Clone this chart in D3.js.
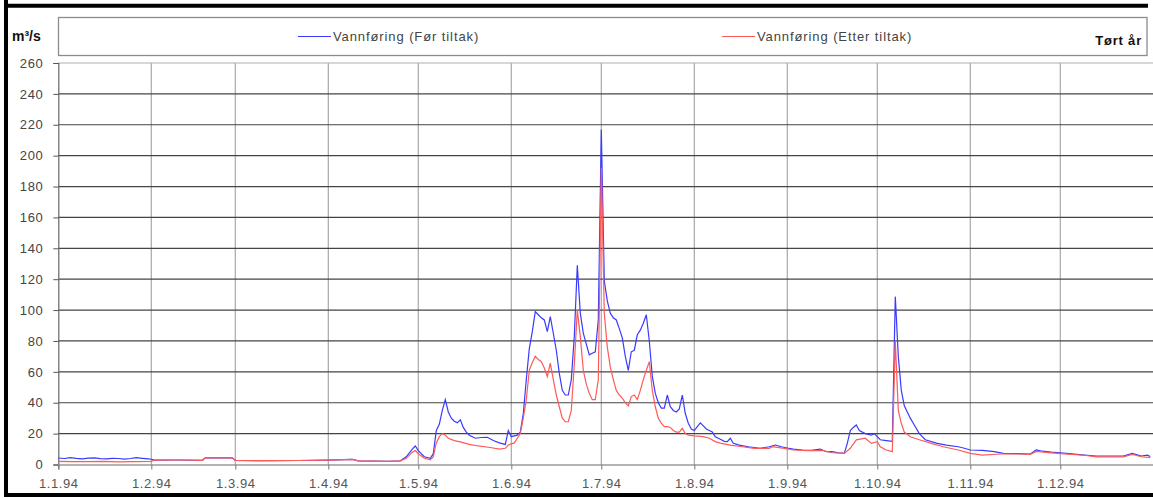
<!DOCTYPE html>
<html>
<head>
<meta charset="utf-8">
<script src="https://cdn.jsdelivr.net/npm/d3@7"></script>
<style>
  body { margin: 0; background: #fff; }
  svg { display: block; }
  text { font-family: "Liberation Sans", Arial, sans-serif; }
</style>
</head>
<body>
<svg id="chart" width="1153" height="498"></svg>
<script>
// Daily discharge 1994, [day of year (0 = 1 Jan), m³/s]
const forTiltak = [
  [0,4.2],[2,3.9],[4,4.4],[6,4.0],[8,3.7],[10,4.1],[12,4.3],[14,3.8],[16,3.6],[18,4.0],[20,3.9],
  [22,3.5],[24,3.9],[26,4.4],[28,4.0],[30,3.6],[31,3.4],
  [32,2.8],[40,2.9],[48,2.7],[49,4.3],[58,4.3],[59,2.6],[70,2.5],[80,2.6],[90,2.8],[98,3.3],
  [100,2.3],[110,2.1],[114,2.4],
  [116,5],[118,10],[119,12],[120,9],[122,5],[124,4],[125,7],[126,22],[127,26],[128,35],[129,42],
  [130,34],[131,30],[132,28],[133,27],[134,29],[135,24],[136,21],[137,19],[139,17],[141,17.5],
  [143,17.6],[145,15.5],[147,14],[149,13],[150,22],[151,18],[152,18.5],[153,19],[154,21],[155,33],
  [156,55],[157,75],[158,86],[159,99],[160,97],[161,95],[162,93.6],[163,86],[164,95.7],[165,85],
  [166,74],[167,59],[168,48],[169,45],[170,45],[171,55],[172,83],[173,129],[174,98],[175,85],
  [176,78],[177,71],[178,72],[179,73],[180,93.6],[181,217],[182,119],[183,106],[184,98],[185,95],
  [186,93.6],[187,88],[188,82],[189,70],[190,61],[191,73],[192,74],[193,84],[194,87],[195,91.5],
  [196,97],[197,80],[198,57],[199,46],[200,40],[201,36.5],[202,36.5],[203,45],[204,37.4],[205,35],
  [206,34],[207,36],[208,45],[209,33],[210,26.7],[211,23],[212,22],[213,24.5],[214,27],[215,25],
  [216,23],[217,22],[218,21],[219,18],[220,17],[221,16],[222,15],[223,14.8],[224,17],[225,13.7],
  [227,12.6],[230,11.5],[232,11],[234,10.5],[237,11.5],[239,12.6],[241,11.5],[243,10.7],[245,10],
  [248,9.4],[251,9.2],[254,10],[256,8.3],[258,8.3],[260,7.6],[262,7.2],[263,13.7],[264,22],[265,24],
  [266,25.6],[267,22],[269,20],[271,19],[272,20],[273,18],[274,16],[276,15.5],[278,15],[279,108.7],
  [280,70],[281,48],[282,38],[283,34],[284,30],[285,26.7],[287,20],[289,16],[293,13.7],[296,12.6],
  [300,11.5],[302,10.5],[304,9.4],[308,9.2],[312,8.3],[315,7.2],[320,7],[324,6.8],[326,9.4],
  [328,8.6],[331,8],[334,7.6],[337,7],[342,6.1],[346,5.5],[351,5.5],[355,5.5],[358,7.2],[361,5.5],
  [363,6],[364,5.2]
];
const etterTiltak = [
  [0,2.0],[5,1.8],[10,1.9],[15,2.0],[20,1.7],[25,1.9],[31,2.0],
  [32,2.8],[40,2.9],[48,2.7],[49,4.3],[58,4.3],[59,2.6],[70,2.5],[80,2.6],[90,2.8],[98,3.3],
  [100,2.3],[110,2.1],[114,2.4],
  [116,4],[118,8],[119,9],[120,7],[122,4],[124,3],[125,5],[126,14],[127,18],[128,20],[129,19],
  [130,17],[132,15.5],[134,14.6],[137,13],[140,12],[144,11],[147,10],[149,10.5],[150,12.6],
  [152,14],[153,17],[154,20],[155,30],[156,42],[157,61],[158,66],[159,70],[160,68],[161,66.6],
  [162,62.5],[163,57],[164,65.7],[165,55],[166,45],[167,37.4],[168,30],[169,27.7],[170,27.7],
  [171,35],[172,65],[173,100],[174,82.8],[175,61],[176,52],[177,46],[178,42],[179,42],[180,55],
  [181,192],[182,98],[183,76],[184,63],[185,55],[186,48],[187,45],[188,43],[189,40],[190,38],
  [191,44],[192,45],[193,42],[194,48],[195,55],[196,61],[197,66.6],[198,48],[199,37.4],[200,30],
  [201,26.7],[202,24.5],[203,24.5],[204,24],[205,22],[206,21],[207,21],[208,23.4],[209,20],
  [210,19],[212,18.5],[215,18],[217,17],[219,14.8],[221,13.7],[224,12.6],[228,11.5],[232,10.5],
  [237,10.5],[238,11.5],[242,10.5],[245,9.4],[250,9],[255,9],[258,7.6],[262,7.2],[264,10.5],
  [266,16],[269,17],[271,13.7],[273,14.8],[274,11.5],[276,9.4],[278,8.3],[279,80],[280,35],
  [281,26.7],[282,21],[284,18],[287,16],[291,13.7],[295,11.5],[300,9.4],[304,7.2],[308,6.1],
  [314,6.8],[320,6.8],[324,6.5],[326,8.5],[331,7.5],[334,7],[342,6],[346,5],[355,5],[358,6.5],
  [361,5],[364,4.5]
];
const monthLabels = ["1.1.94","1.2.94","1.3.94","1.4.94","1.5.94","1.6.94",
                     "1.7.94","1.8.94","1.9.94","1.10.94","1.11.94","1.12.94"];
const yTicks = [0,20,40,60,80,100,120,140,160,180,200,220,240,260];
const seriesNames = ["Vannføring (Før tiltak)", "Vannføring (Etter tiltak)"];
const unitLabel = "m³/s";
const yearLabel = "Tørt år";

const svg = d3.select("#chart");
const start = new Date(Date.UTC(1994, 0, 1));
const end = new Date(Date.UTC(1995, 0, 1));
const dayDate = d => d3.utcDay.offset(start, d);

const plot = { left: 58.3, right: 1153.3, top: 63, bottom: 464.5 };
const x = d3.scaleUtc().domain([start, end]).range([plot.left, plot.right]);
const y = d3.scaleLinear().domain([0, 260]).range([plot.bottom, plot.top]);
const months = d3.utcMonth.range(start, end);

// frame around the whole figure
svg.append("path")
  .attr("d", "M6,0 V495 M4,5.7 H1148 M4,495 H1153")
  .attr("stroke", "#000").attr("stroke-width", 4).attr("fill", "none");

// legend box
svg.append("rect")
  .attr("x", 58.5).attr("y", 17.5).attr("width", 1088.5).attr("height", 38)
  .attr("fill", "#fff").attr("stroke", "#8c8c8c").attr("stroke-width", 1.3);

svg.append("text").attr("x", 12).attr("y", 40.5)
  .attr("font-size", 14).attr("font-weight", "bold").attr("fill", "#111")
  .text(unitLabel);

svg.append("text").attr("x", 1142).attr("y", 45).attr("text-anchor", "end")
  .attr("font-size", 13).attr("font-weight", "bold").attr("letter-spacing", 0.8).attr("fill", "#111")
  .text(yearLabel);

const legendItems = [
  { name: seriesNames[0], color: "#3a3aff", x0: 298 },
  { name: seriesNames[1], color: "#ff5a5a", x0: 722 }
];
legendItems.forEach(it => {
  svg.append("line").attr("x1", it.x0).attr("x2", it.x0 + 33)
    .attr("y1", 36.5).attr("y2", 36.5).attr("stroke", it.color).attr("stroke-width", 1.2);
  svg.append("text").attr("x", it.x0 + 35).attr("y", 41)
    .attr("font-size", 13).attr("letter-spacing", 0.9).attr("fill", "#444").text(it.name);
});

// vertical gridlines at each month
svg.append("g").selectAll("line").data(months.slice(1)).join("line")
  .attr("x1", d => x(d)).attr("x2", d => x(d))
  .attr("y1", plot.top).attr("y2", plot.bottom)
  .attr("stroke", "#a8a8a8").attr("stroke-width", 1.2);

// horizontal gridlines
svg.append("g").selectAll("line").data(yTicks.filter(v => v > 0)).join("line")
  .attr("x1", plot.left).attr("x2", plot.right)
  .attr("y1", d => y(d)).attr("y2", d => y(d))
  .attr("stroke", d => d === 260 ? "#b0b0b0" : "#444")
  .attr("stroke-width", 1.2);

// y axis
const yAxis = svg.append("g").attr("transform", `translate(${plot.left},0)`)
  .call(d3.axisLeft(y).tickValues(yTicks).tickSize(5).tickPadding(10));
yAxis.select(".domain").attr("stroke", "#666").attr("stroke-width", 1.2);
yAxis.selectAll(".tick line").attr("stroke", "#555");
yAxis.selectAll(".tick text").attr("font-size", 13).attr("fill", "#444")
  .attr("font-family", "Liberation Sans, Arial, sans-serif").attr("letter-spacing", 0.6);

// x axis
const xAxis = svg.append("g").attr("transform", `translate(0,${plot.bottom})`)
  .call(d3.axisBottom(x).tickValues(months).tickSize(5).tickPadding(9)
    .tickFormat((d, i) => monthLabels[i]));
xAxis.select(".domain").attr("stroke", "#9a9a9a").attr("stroke-width", 1.6);
xAxis.selectAll(".tick line").attr("stroke", "#777");
xAxis.selectAll(".tick text").attr("font-size", 13).attr("fill", "#555")
  .attr("font-family", "Liberation Sans, Arial, sans-serif").attr("letter-spacing", 0.6);

// series lines
const line = d3.line().x(d => x(dayDate(d[0]))).y(d => y(d[1]));
svg.append("path").datum(forTiltak).attr("d", line)
  .attr("fill", "none").attr("stroke", "#3a3aff").attr("stroke-width", 1.2);
svg.append("path").datum(etterTiltak).attr("d", line)
  .attr("fill", "none").attr("stroke", "#ff5a5a").attr("stroke-width", 1.2);
</script>
</body>
</html>
